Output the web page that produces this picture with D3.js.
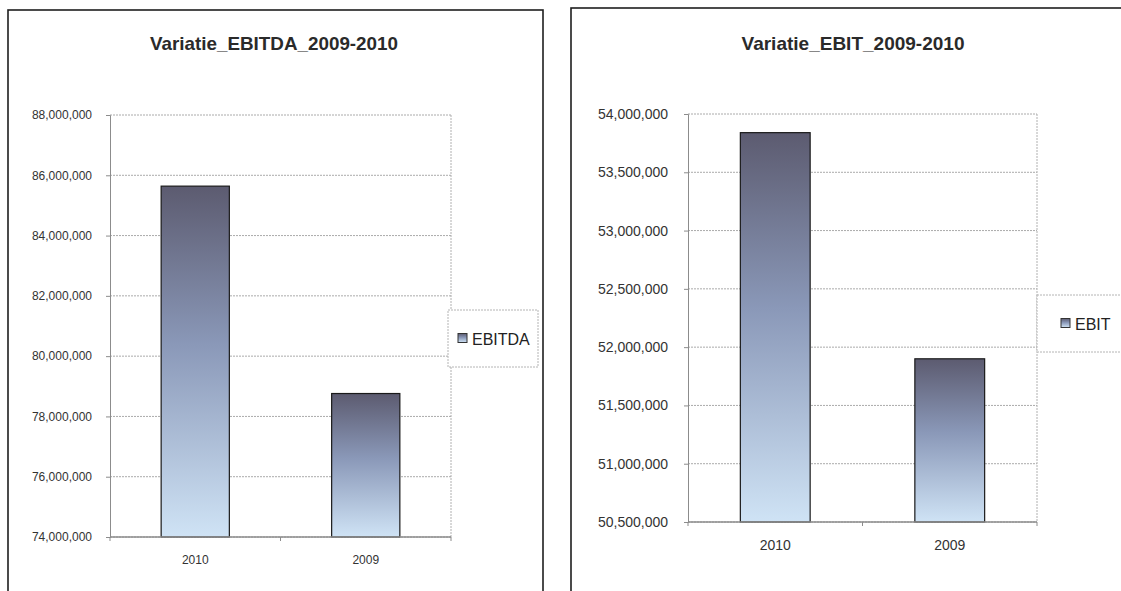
<!DOCTYPE html>
<html>
<head>
<meta charset="utf-8">
<script src="https://cdn.jsdelivr.net/npm/d3@7"></script>
<style>
  html, body { margin: 0; padding: 0; background: #ffffff; }
  svg { display: block; font-family: Arial, "Liberation Sans", sans-serif; }
</style>
</head>
<body>
<svg id="chart" width="1121" height="591"></svg>
<script>
// Categories and values for the two year-on-year comparisons
const years = ["2010", "2009"];
const ebitdaValues = [85640000, 78760000];
const ebitValues = [53840000, 51900000];
const ebitdaTicks = [74000000, 76000000, 78000000, 80000000, 82000000, 84000000, 86000000, 88000000];
const ebitTicks = [50500000, 51000000, 51500000, 52000000, 52500000, 53000000, 53500000, 54000000];
const titles = ["Variatie_EBITDA_2009-2010", "Variatie_EBIT_2009-2010"];
const seriesNames = ["EBITDA", "EBIT"];

const svg = d3.select("#chart");
const fmt = d3.format(",");

// Shared vertical gradient for the bars: dark slate on top, pale blue at the base
const defs = svg.append("defs");
const grad = defs.append("linearGradient")
  .attr("id", "barGrad").attr("x1", 0).attr("y1", 0).attr("x2", 0).attr("y2", 1);
grad.append("stop").attr("offset", "0%").attr("stop-color", "#5c5b70");
grad.append("stop").attr("offset", "45%").attr("stop-color", "#8a98b8");
grad.append("stop").attr("offset", "100%").attr("stop-color", "#cfe3f5");

function drawChart(cfg) {
  const g = svg.append("g");

  // outer chart frame
  g.append("rect")
    .attr("x", cfg.frame[0]).attr("y", cfg.frame[1])
    .attr("width", cfg.frame[2]).attr("height", cfg.frame[3])
    .attr("fill", "none").attr("stroke", "#1e1e1e").attr("stroke-width", 1.6);

  const x = d3.scaleBand().domain(cfg.categories)
    .range([cfg.plot.left, cfg.plot.right])
    .paddingInner(0.6).paddingOuter(0.3);
  const y = d3.scaleLinear()
    .domain([cfg.ticks[0], cfg.ticks[cfg.ticks.length - 1]])
    .range([cfg.plot.bottom, cfg.plot.top]);

  // title
  g.append("text")
    .attr("x", cfg.titleX).attr("y", cfg.titleY)
    .attr("text-anchor", "middle")
    .attr("font-size", cfg.titleSize).attr("font-weight", "bold")
    .attr("fill", "#2a2a2a")
    .attr("textLength", cfg.titleLen).attr("lengthAdjust", "spacingAndGlyphs")
    .text(cfg.title);

  // horizontal gridlines
  g.append("g").selectAll("line").data(cfg.ticks).join("line")
    .attr("x1", cfg.plot.left).attr("x2", cfg.plot.right)
    .attr("y1", d => y(d)).attr("y2", d => y(d))
    .attr("stroke", "#aaaaaa").attr("stroke-width", 1)
    .attr("stroke-dasharray", "2,1");

  // right edge of the plot area
  g.append("line")
    .attr("x1", cfg.plot.right).attr("x2", cfg.plot.right)
    .attr("y1", cfg.plot.top).attr("y2", cfg.plot.bottom)
    .attr("stroke", "#b0b0b0").attr("stroke-dasharray", "2,1");

  // value axis
  const yAxis = d3.axisLeft(y).tickValues(cfg.ticks).tickFormat(fmt)
    .tickSize(4).tickPadding(cfg.tickPad);
  const ya = g.append("g").attr("transform", `translate(${cfg.plot.left},0)`).call(yAxis);
  ya.select(".domain").attr("stroke", "#8c8c8c");
  ya.selectAll(".tick line").attr("stroke", "#8c8c8c");
  ya.selectAll(".tick text")
    .attr("font-size", cfg.labelSize).attr("fill", "#333")
    .attr("font-family", "Arial, 'Liberation Sans', sans-serif");

  // bars
  g.append("g").selectAll("rect").data(cfg.values).join("rect")
    .attr("x", (d, i) => x(cfg.categories[i]))
    .attr("width", x.bandwidth())
    .attr("y", d => y(d))
    .attr("height", d => y(cfg.ticks[0]) - y(d))
    .attr("fill", "url(#barGrad)")
    .attr("stroke", "#1a1a1a").attr("stroke-width", 1.2);

  // category axis with ticks between the categories
  const catBounds = [cfg.plot.left].concat(cfg.categories.map(c => x(c) + x.bandwidth() / 2 + x.step() / 2));
  catBounds[catBounds.length - 1] = cfg.plot.right;
  g.append("line")
    .attr("x1", cfg.plot.left).attr("x2", cfg.plot.right)
    .attr("y1", cfg.plot.bottom).attr("y2", cfg.plot.bottom)
    .attr("stroke", "#8c8c8c").attr("stroke-width", 1.4);
  g.append("g").selectAll("line").data(catBounds).join("line")
    .attr("x1", d => d).attr("x2", d => d)
    .attr("y1", cfg.plot.bottom).attr("y2", cfg.plot.bottom + 4)
    .attr("stroke", "#8c8c8c");
  g.append("g").selectAll("text").data(cfg.categories).join("text")
    .attr("x", d => x(d) + x.bandwidth() / 2)
    .attr("y", cfg.catY)
    .attr("text-anchor", "middle")
    .attr("font-size", cfg.catSize).attr("fill", "#333")
    .text(d => d);

  // legend
  const lg = g.append("g");
  lg.append("rect")
    .attr("x", cfg.legend.x).attr("y", cfg.legend.y)
    .attr("width", cfg.legend.w).attr("height", cfg.legend.h)
    .attr("fill", "#ffffff").attr("stroke", "#b4b4b4").attr("stroke-dasharray", "2,1");
  lg.append("rect")
    .attr("x", cfg.legend.x + cfg.legend.sx).attr("y", cfg.legend.y + cfg.legend.h / 2 - 5)
    .attr("width", 9).attr("height", 9)
    .attr("fill", "url(#barGrad)").attr("stroke", "#333");
  lg.append("text")
    .attr("x", cfg.legend.x + cfg.legend.sx + 14).attr("y", cfg.legend.y + cfg.legend.h / 2 + 6)
    .attr("font-size", cfg.legend.size).attr("fill", "#222")
    .text(cfg.series);
}

drawChart({
  frame: [8, 10, 535, 600],
  plot: { left: 110, right: 451, top: 115, bottom: 537 },
  categories: years, values: ebitdaValues, ticks: ebitdaTicks,
  title: titles[0], series: seriesNames[0],
  titleX: 274, titleY: 50, titleSize: 19, titleLen: 248,
  labelSize: 12, tickPad: 14, catY: 564, catSize: 12,
  legend: { x: 448, y: 310, w: 90, h: 57, sx: 10, size: 16 }
});

drawChart({
  frame: [571, 8, 600, 600],
  plot: { left: 688, right: 1037, top: 114, bottom: 522 },
  categories: years, values: ebitValues, ticks: ebitTicks,
  title: titles[1], series: seriesNames[1],
  titleX: 853, titleY: 50, titleSize: 19, titleLen: 223,
  labelSize: 14, tickPad: 16, catY: 550, catSize: 14,
  legend: { x: 1037, y: 295, w: 100, h: 57, sx: 24, size: 16 }
});
</script>
</body>
</html>
